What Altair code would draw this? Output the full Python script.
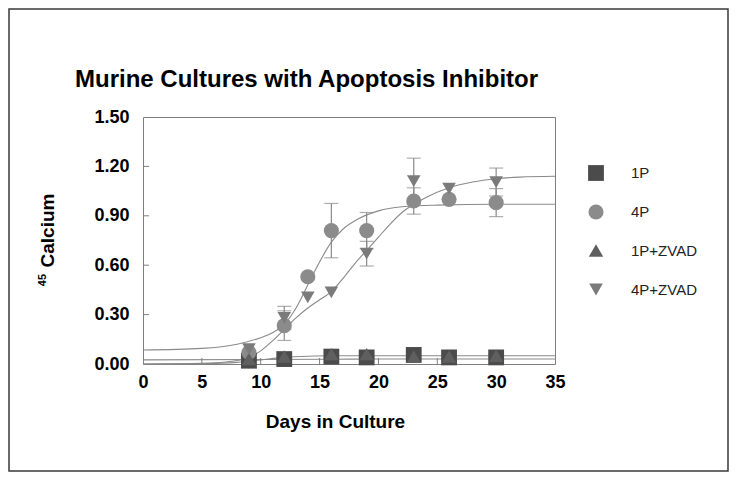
import altair as alt
import pandas as pd

FONT = "Liberation Sans"

# ---------------- data ----------------
title_text = ["Murine Cultures with Apoptosis Inhibitor"]
series_names = ["1P", "4P", "1P+ZVAD", "4P+ZVAD"]
series_colors = ["#4b4b4b", "#8b8b8b", "#5f5f5f", "#7b7b7b"]
series_shapes = ["square", "circle", "triangle-up", "triangle-down"]
series_sizes = [250, 185, 230, 230]

days_1p = [9, 12, 16, 19, 23, 26, 30]
ca_1p = [0.02, 0.03, 0.045, 0.04, 0.055, 0.04, 0.04]
ca_1pz = [0.03, 0.045, 0.06, 0.06, 0.045, 0.045, 0.05]

days_4p = [9, 12, 14, 16, 19, 23, 26, 30]
ca_4p = [0.07, 0.233, 0.53, 0.81, 0.81, 0.99, 1.00, 0.98]
err_4p = [0, 0.09, 0, 0.165, 0.11, 0.08, 0, 0.085]
ca_4pz = [0.09, 0.28, 0.405, 0.435, 0.67, 1.11, 1.065, 1.105]
err_4pz = [0, 0.07, 0, 0, 0.075, 0.14, 0, 0.085]

# fitted curves
fit_4p_x = [0, 5, 8, 10, 11, 12, 13, 14, 15, 16, 17, 18, 20, 22, 25, 30, 35]
fit_4p_y = [0.085, 0.095, 0.12, 0.16, 0.19, 0.24, 0.34, 0.48, 0.62, 0.74, 0.82, 0.87, 0.93, 0.955, 0.965, 0.97, 0.97]
fit_4pz_x = [0, 5, 7, 9, 10, 11, 12, 13, 14, 15, 16, 17, 18, 19, 20, 21, 22, 23, 24, 26, 28, 30, 32, 35]
fit_4pz_y = [0.0, 0.004, 0.012, 0.04, 0.08, 0.14, 0.21, 0.28, 0.34, 0.39, 0.44, 0.52, 0.61, 0.69, 0.77, 0.85, 0.92, 0.97, 1.01, 1.07, 1.105, 1.125, 1.135, 1.14]
fit_1p_x = [0, 10, 20, 35]
fit_1p_y = [0.025, 0.027, 0.03, 0.03]
fit_1pz_x = [0, 5, 8, 10, 12, 14, 16, 20, 35]
fit_1pz_y = [0.0, 0.002, 0.01, 0.025, 0.04, 0.047, 0.05, 0.05, 0.05]

x_ticks = [0, 5, 10, 15, 20, 25, 30, 35]
y_ticks = [0.0, 0.3, 0.6, 0.9, 1.2, 1.5]
x_title = "Days in Culture"
y_title = "Calcium"
y_sup = ["45"]

# ---------------- tables ----------------
rows = []
for d, v in zip(days_1p, ca_1p):
    rows.append({"series": "1P", "day": d, "ca": v, "err": 0})
for d, v, e in zip(days_4p, ca_4p, err_4p):
    rows.append({"series": "4P", "day": d, "ca": v, "err": e})
for d, v in zip(days_1p, ca_1pz):
    rows.append({"series": "1P+ZVAD", "day": d, "ca": v, "err": 0})
for d, v, e in zip(days_4p, ca_4pz, err_4pz):
    rows.append({"series": "4P+ZVAD", "day": d, "ca": v, "err": e})
pts = pd.DataFrame(rows)
pts["lo"] = pts["ca"] - pts["err"]
pts["hi"] = pts["ca"] + pts["err"]
errs = pts[pts["err"] > 0].copy()
caps = pd.concat([
    errs[["day", "lo"]].rename(columns={"lo": "ca"}),
    errs[["day", "hi"]].rename(columns={"hi": "ca"}),
])

fits = pd.concat([
    pd.DataFrame({"fit": "4P", "day": fit_4p_x, "ca": fit_4p_y}),
    pd.DataFrame({"fit": "4P+ZVAD", "day": fit_4pz_x, "ca": fit_4pz_y}),
    pd.DataFrame({"fit": "1P", "day": fit_1p_x, "ca": fit_1p_y}),
    pd.DataFrame({"fit": "1P+ZVAD", "day": fit_1pz_x, "ca": fit_1pz_y}),
])

W, H = 412, 247

x_scale = alt.Scale(domain=[0, 35], nice=False, zero=False)
y_scale = alt.Scale(domain=[0, 1.5], nice=False)
x_axis = alt.Axis(values=x_ticks, title=x_title, ticks=False, domain=False, grid=False,
                  labelFont=FONT, labelFontSize=18, labelFontWeight="bold", labelColor="#000",
                  labelPadding=9, titleFont=FONT, titleFontSize=19, titleFontWeight="bold",
                  titleColor="#000", titleX=192, titleY=63, titleBaseline="alphabetic",
                  titleAlign="center", labelFlush=False)
y_axis = alt.Axis(values=y_ticks, format=".2f", title=y_title, ticks=False, domain=False, grid=False,
                  labelFont=FONT, labelFontSize=18, labelFontWeight="bold", labelColor="#000",
                  labelPadding=14, titleFont=FONT, titleFontSize=19, titleFontWeight="bold",
                  titleColor="#000", titleAngle=270, titleX=-90, titleY=113,
                  titleAlign="center", titleBaseline="alphabetic", labelFlush=False)

def X(field="day"):
    return alt.X(f"{field}:Q", scale=x_scale, axis=x_axis)

def Y(field="ca"):
    return alt.Y(f"{field}:Q", scale=y_scale, axis=y_axis)

one = pd.DataFrame({"k": [0]})

frame = alt.Chart(one).mark_rect(filled=False, stroke="#3a3a3a", strokeWidth=1.5).encode(
    x=alt.value(-134), x2=alt.value(585), y=alt.value(-108), y2=alt.value(354))

curves = alt.Chart(fits).mark_line(interpolate="monotone", color="#8a8a8a", strokeWidth=1.1).encode(
    x=X(), y=Y(), detail="fit:N")

xt = alt.Chart(pd.DataFrame({"day": x_ticks[1:-1]})).mark_rule(color="#7f7f7f").encode(
    x=X(), y=alt.value(H), y2=alt.value(H - 6))
yt = alt.Chart(pd.DataFrame({"ca": y_ticks[1:-1]})).mark_rule(color="#7f7f7f").encode(
    y=Y(), x=alt.value(0), x2=alt.value(6))

ebars = alt.Chart(errs).mark_rule(color="#8a8a8a", strokeWidth=1.2).encode(
    x=X(), y=Y("lo"), y2="hi:Q")
ecaps = alt.Chart(caps).mark_tick(color="#8a8a8a", orient="horizontal", size=14, thickness=1.2).encode(
    x=X(), y=Y())

points = alt.Chart(pts).mark_point(filled=True, opacity=1, strokeWidth=0).encode(
    x=X(), y=Y(),
    color=alt.Color("series:N", scale=alt.Scale(domain=series_names, range=series_colors),
                    legend=alt.Legend(title=None, orient="none", legendX=445, legendY=48,
                                      rowPadding=23, labelFont=FONT, labelFontSize=15,
                                      labelColor="#222", symbolSize=210, labelOffset=27,
                                      symbolStrokeWidth=0, padding=0, symbolOpacity=1)),
    shape=alt.Shape("series:N", scale=alt.Scale(domain=series_names, range=series_shapes)),
    size=alt.Size("series:N", scale=alt.Scale(domain=series_names, range=series_sizes), legend=None),
)

title = alt.Chart(pd.DataFrame({"t": title_text})).mark_text(
    font=FONT, fontSize=24, fontWeight="bold", align="left", baseline="alphabetic", color="#000").encode(
    x=alt.value(-68), y=alt.value(-30), text="t:N")

sup = alt.Chart(pd.DataFrame({"t": y_sup})).mark_text(
    font=FONT, fontSize=11, fontWeight="bold", align="center", baseline="alphabetic", angle=270,
    color="#000").encode(x=alt.value(-97), y=alt.value(163), text="t:N")

chart = alt.layer(frame, curves, xt, yt, ebars, ecaps, points, title, sup).properties(
    width=W, height=H,
    autosize=alt.AutoSizeParams(type="none"),
    padding={"left": 135, "top": 109, "right": 175, "bottom": 109},
    background="white",
).configure_view(stroke="#7f7f7f", strokeWidth=1)

chart.save("out.html", embed_options={"renderer": "svg", "actions": False})
